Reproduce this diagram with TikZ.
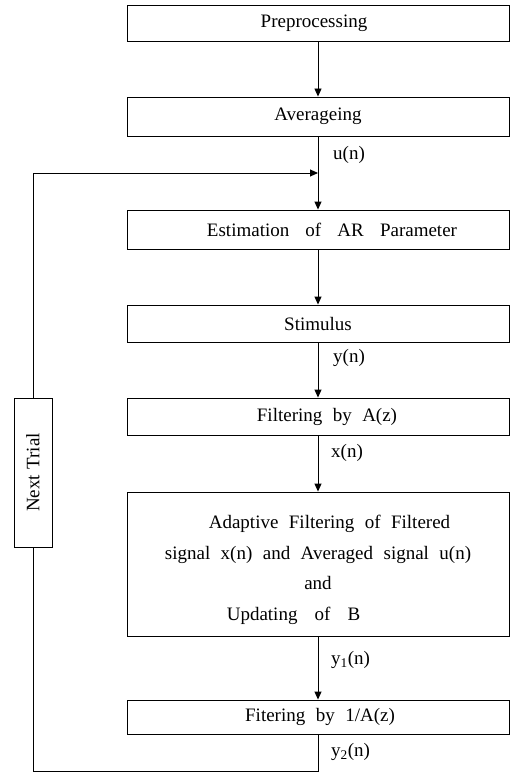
\documentclass[tikz,border=0pt]{standalone}
\usepackage{fontspec}
\setmainfont{Liberation Serif}
\usetikzlibrary{arrows.meta}
\newcommand\widesp[1]{\spaceskip=#1\relax}
\begin{document}
\begin{tikzpicture}[x=1pt,y=-1pt,
  txt/.style={font=\fontsize{19}{30.5}\selectfont, execute at begin node={\widesp{0.55em}}},
  procbox/.style={draw, line width=0.9pt, minimum width=382pt, inner sep=0pt, txt},
  sig/.style={anchor=west, inner sep=0pt, font=\fontsize{19}{22}\selectfont},
  flow/.style={line width=0.9pt, -{Triangle[length=8pt,width=7pt]}},
  plain/.style={line width=0.9pt}]
\useasboundingbox (0,0) rectangle (513,773);
\node[procbox, minimum height=36pt] (pre) at (318,23) {Preprocessing\hspace*{8pt}\mbox{}};
\node[procbox, minimum height=39pt] (avg) at (318,116.5) {Averageing};
\node[procbox, minimum height=39pt] (est) at (318,229.5) {\widesp{0.85em}\hspace*{28pt}Estimation of AR Parameter};
\node[procbox, minimum height=37pt] (stim) at (318,323.5) {Stimulus};
\node[procbox, minimum height=37pt] (filt) at (318,416.5) {\hspace*{18pt}Filtering by A(z)};
\node[procbox, minimum height=144pt, align=center] (adapt) at (318,564)
  {\rule{0pt}{25pt}\hspace*{23pt}Adaptive Filtering of Filtered\\
   signal x(n) and Averaged signal u(n)\\
   and\\
   {\widesp{0.9em}Updating of B}\hspace*{49pt}\mbox{}};
\node[procbox, minimum height=34pt] (fit) at (318,717) {\hspace*{4pt}Fitering by 1/A(z)};
\node[draw, line width=0.9pt, minimum width=38pt, minimum height=149pt, inner sep=0pt, txt] (nt) at (33,472.5)
  {\rotatebox{90}{\widesp{0.3em}Next Trial}};
\node[sig] (lu) at (333,155) {u(n)};
\node[sig] (ly) at (333,358) {y(n)};
\node[sig] (lx) at (331,453) {x(n)};
\node[sig] (ly1) at (331,660) {y\textsubscript{1}(n)};
\node[sig] (ly2) at (331,752) {y\textsubscript{2}(n)};
\coordinate (join) at (318,173);
\coordinate (bl) at (33,771);
\draw[flow] (pre) -- (avg);
\draw[flow] (avg) -- (est);
\draw[flow] (est) -- (stim);
\draw[flow] (stim) -- (filt);
\draw[flow] (filt) -- (adapt);
\draw[flow] (adapt) -- (fit);
\draw[plain] (fit.south) |- (bl) -- (nt.south);
\draw[flow] (nt.north) |- (join);
\end{tikzpicture}
\end{document}
